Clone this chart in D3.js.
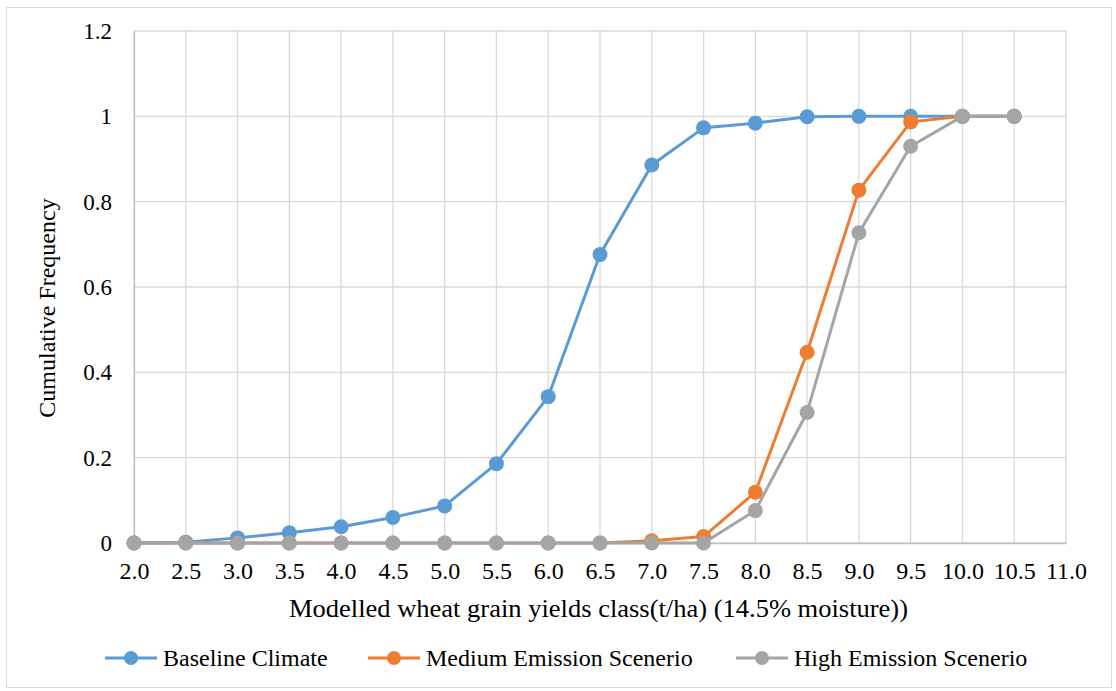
<!DOCTYPE html>
<html>
<head>
<meta charset="utf-8">
<script src="https://cdn.jsdelivr.net/npm/d3@7"></script>
<style>
  body { margin: 0; background: #fff; }
</style>
</head>
<body>
<div id="chart"></div>
<script>
const categories = ["2.0","2.5","3.0","3.5","4.0","4.5","5.0","5.5","6.0","6.5","7.0","7.5","8.0","8.5","9.0","9.5","10.0","10.5","11.0"];
const baseline = [0, 0.002, 0.012, 0.024, 0.038, 0.06, 0.087, 0.186, 0.343, 0.676, 0.886, 0.973, 0.984, 0.999, 1, 1, 1, 1];
const medium   = [0, 0, 0, 0, 0, 0, 0, 0, 0, 0, 0.005, 0.015, 0.119, 0.447, 0.827, 0.987, 1, 1];
const high     = [0, 0, 0, 0, 0, 0, 0, 0, 0, 0, 0, 0, 0.076, 0.306, 0.727, 0.93, 1, 1];
const yTicks = [0, 0.2, 0.4, 0.6, 0.8, 1, 1.2];

const series = [
  { name: "Baseline Climate", values: baseline, color: "#5B9BD5" },
  { name: "Medium Emission Scenerio", values: medium, color: "#ED7D31" },
  { name: "High Emission Scenerio", values: high, color: "#A5A5A5" }
];

const FONT = "Liberation Serif";

const width = 1116, height = 691;
const margin = { top: 31, right: 50, bottom: 148, left: 134 };

const svg = d3.select("#chart").append("svg")
  .attr("width", width)
  .attr("height", height);

// outer frame
svg.append("rect")
  .attr("x", 6.5).attr("y", 7.5)
  .attr("width", 1105).attr("height", 680)
  .attr("fill", "none")
  .attr("stroke", "#D9D9D9");

const x = d3.scalePoint()
  .domain(categories)
  .range([margin.left, width - margin.right]);

const y = d3.scaleLinear()
  .domain([0, 1.2])
  .range([height - margin.bottom, margin.top]);

// gridlines
svg.append("g")
  .selectAll("line")
  .data(yTicks)
  .join("line")
  .attr("x1", margin.left).attr("x2", width - margin.right)
  .attr("y1", d => y(d)).attr("y2", d => y(d))
  .attr("stroke", "#D9D9D9")
  .attr("stroke-width", 1.3);

svg.append("g")
  .selectAll("line")
  .data(categories)
  .join("line")
  .attr("x1", d => x(d)).attr("x2", d => x(d))
  .attr("y1", margin.top).attr("y2", height - margin.bottom)
  .attr("stroke", "#D9D9D9")
  .attr("stroke-width", 1.3);

// axes
const xAxis = svg.append("g")
  .attr("transform", `translate(0,${height - margin.bottom})`)
  .call(d3.axisBottom(x).tickSize(0).tickPadding(19));
xAxis.select(".domain").attr("stroke", "#BFBFBF").attr("stroke-width", 1.3);
xAxis.selectAll("text").style("font-family", FONT).style("font-size", "24px").attr("fill", "#000");

const yAxis = svg.append("g")
  .attr("transform", `translate(${margin.left},0)`)
  .call(d3.axisLeft(y).tickValues(yTicks).tickSize(0).tickPadding(22).tickFormat(d3.format("")));
yAxis.select(".domain").attr("stroke", "#BFBFBF").attr("stroke-width", 1.3);
yAxis.selectAll("text").style("font-family", FONT).style("font-size", "23px").attr("fill", "#000");

// axis titles
svg.append("text")
  .attr("x", 289)
  .attr("y", 617)
  .attr("textLength", 619)
  .attr("lengthAdjust", "spacingAndGlyphs")
  .style("font-family", FONT)
  .style("font-size", "25px")
  .text("Modelled wheat grain yields class(t/ha) (14.5% moisture))");

svg.append("text")
  .attr("transform", `translate(55,308) rotate(-90)`)
  .attr("text-anchor", "middle")
  .style("font-family", FONT)
  .style("font-size", "24px")
  .text("Cumulative Frequency");

// lines and markers
const line = d3.line()
  .x((d, i) => x(categories[i]))
  .y(d => y(d));

series.forEach(s => {
  const g = svg.append("g");
  g.append("path")
    .datum(s.values)
    .attr("d", line)
    .attr("fill", "none")
    .attr("stroke", s.color)
    .attr("stroke-width", 3)
    .attr("stroke-linejoin", "round");
  g.selectAll("circle")
    .data(s.values)
    .join("circle")
    .attr("cx", (d, i) => x(categories[i]))
    .attr("cy", d => y(d))
    .attr("r", 7.5)
    .attr("fill", s.color);
});

// legend
const legendX = [105, 368, 736];
const legend = svg.append("g");
series.forEach((s, i) => {
  const g = legend.append("g").attr("transform", `translate(${legendX[i]},658)`);
  g.append("line")
    .attr("x1", 0).attr("x2", 52)
    .attr("stroke", s.color).attr("stroke-width", 3);
  g.append("circle").attr("cx", 26).attr("r", 7).attr("fill", s.color);
  g.append("text")
    .attr("x", 58).attr("dy", "0.33em")
    .style("font-family", FONT)
    .style("font-size", "24px")
    .text(s.name);
});
</script>
</body>
</html>
